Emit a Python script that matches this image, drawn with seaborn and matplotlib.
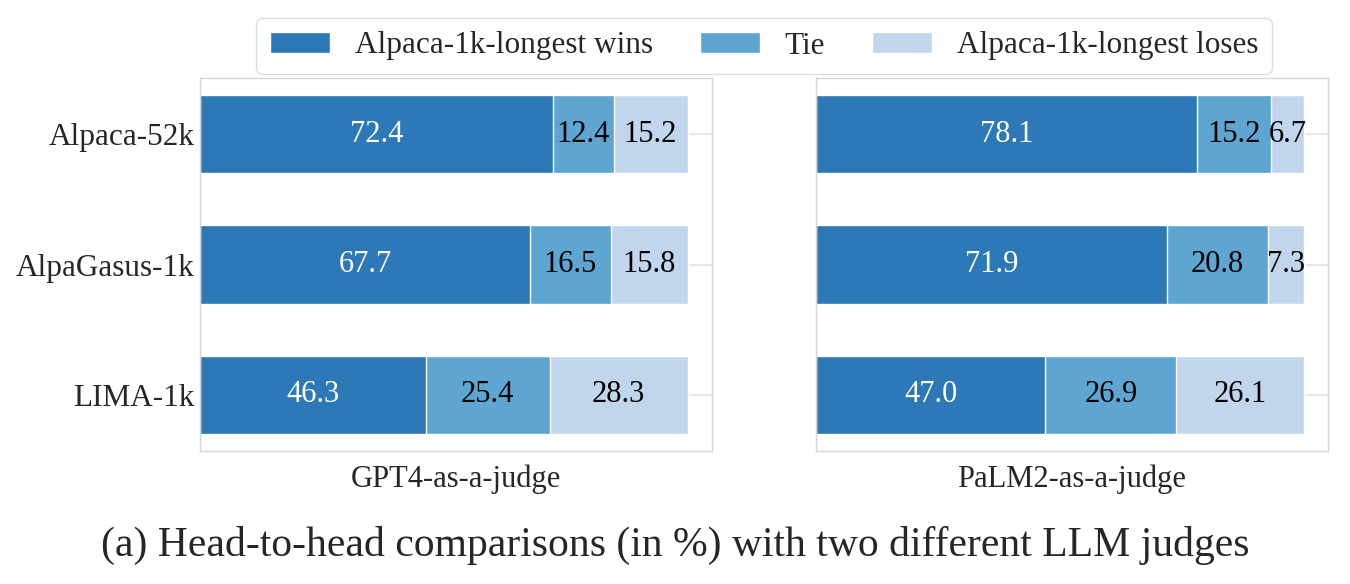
import numpy as np
import pandas as pd
import matplotlib
matplotlib.use("Agg")
import matplotlib.pyplot as plt
import seaborn as sns
from matplotlib.patches import Patch

models = ["Alpaca-52k", "AlpaGasus-1k", "LIMA-1k"]
judges = ["GPT4-as-a-judge", "PaLM2-as-a-judge"]
series = ["Alpaca-1k-longest wins", "Tie", "Alpaca-1k-longest loses"]
gpt4_wins = [72.4, 67.7, 46.3]
gpt4_tie = [12.4, 16.5, 25.4]
gpt4_loses = [15.2, 15.8, 28.3]
palm2_wins = [78.1, 71.9, 47.0]
palm2_tie = [15.2, 20.8, 26.9]
palm2_loses = [6.7, 7.3, 26.1]
caption = "(a) Head-to-head comparisons (in %) with two different LLM judges"

colors = ["#2D78B6", "#5FA5D1", "#C1D6EC"]
text_colors = ["white", "black", "black"]

sns.set_theme(style="whitegrid")
plt.rcParams["font.family"] = ["Liberation Serif", "DejaVu Serif"]

fig = plt.figure(figsize=(13.5, 5.84), dpi=100)
W, H = 1350, 584
axes = [fig.add_axes([200 / W, 1 - 451 / H, 512 / W, 373 / H]),
        fig.add_axes([816 / W, 1 - 451 / H, 512 / W, 373 / H])]

data = [(gpt4_wins, gpt4_tie, gpt4_loses), (palm2_wins, palm2_tie, palm2_loses)]

for ax, judge, (w, t, l) in zip(axes, judges, data):
    w = np.array(w); t = np.array(t); l = np.array(l)
    cum = [w + t + l, w + t, w]
    # draw from longest to shortest so segments stack
    for k in [0, 1, 2]:
        df = pd.DataFrame({"model": models, "value": cum[k]})
        sns.barplot(data=df, x="value", y="model", orient="h", ax=ax,
                    color=colors[2 - k], saturation=1, width=0.6,
                    edgecolor="white", linewidth=1.0)
    lefts = [np.zeros(3), w, w + t]
    vals = [w, t, l]
    for s in range(3):
        for i in range(3):
            ax.text(lefts[s][i] + vals[s][i] / 2, i, f"{vals[s][i]:.1f}",
                    ha="center", va="center", fontsize=22,
                    color=text_colors[s])
    ax.set_xlim(0, 105)
    ax.set_ylim(2.43, -0.43)
    ax.set_xticks([])
    ax.set_xlabel(judge, fontsize=22, labelpad=10)
    ax.set_ylabel("")
    ax.grid(axis="x", visible=False)
    ax.grid(axis="y", color="#e3e3e3", linewidth=1.2)
    ax.set_axisbelow(True)
    for sp in ax.spines.values():
        sp.set_color("#d6d6d6")
        sp.set_linewidth(1.0)
    ax.tick_params(axis="y", labelsize=22.5, length=0, pad=4)

axes[1].set_yticklabels([])

handles = [Patch(facecolor=c, edgecolor="white") for c in colors]
fig.legend(handles, series, loc="center", bbox_to_anchor=(764 / W, 1 - 46 / H),
           ncol=3, fontsize=22.5, frameon=True, handlelength=1.92, handleheight=0.68,
           columnspacing=1.5, handletextpad=0.8, edgecolor="#d6d6d6",
           fancybox=True, borderpad=0.42)

fig.text(0.5, 1 - 545 / H, caption, ha="center", va="center", fontsize=30)

fig.savefig("out.png", dpi=100)
